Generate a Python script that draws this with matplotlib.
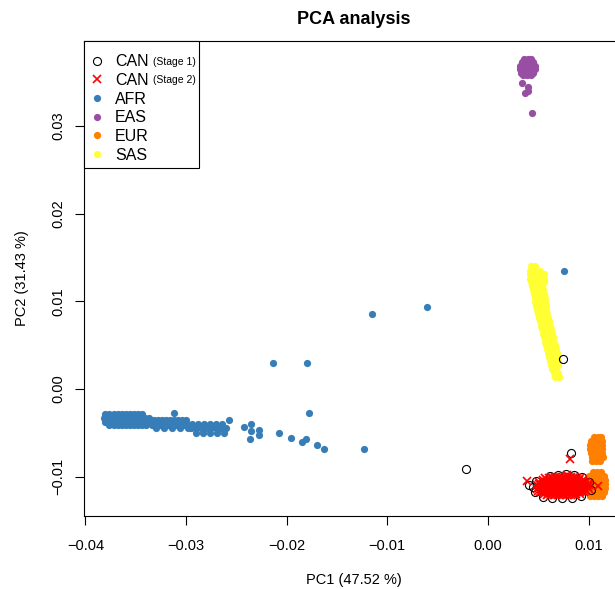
import numpy as np
import matplotlib
matplotlib.use("Agg")
from matplotlib import pyplot as plt
from matplotlib.transforms import IdentityTransform

plt.rcParams['font.family'] = ['Liberation Sans', 'DejaVu Sans']

###Values (PC1, PC2)###
# dense groups are kept as rows: (PC2, [PC1, ...])
afr_rows = [
    (-0.0029, [-0.0380, -0.0376, -0.0372, -0.0368, -0.0364, -0.0360, -0.0356, -0.0352, -0.0348, -0.0344]),
    (-0.0033, [-0.0381, -0.0377, -0.0373, -0.0369, -0.0365, -0.0361, -0.0357, -0.0353, -0.0349, -0.0345, -0.0341, -0.0337]),
    (-0.0038, [-0.0380, -0.0376, -0.0372, -0.0368, -0.0364, -0.0360, -0.0356, -0.0352, -0.0348, -0.0344, -0.0340, -0.0336]),
    (-0.0041, [-0.0376, -0.0372, -0.0368, -0.0364, -0.0360, -0.0356, -0.0352, -0.0348, -0.0344, -0.0340]),
    (-0.0036, [-0.0332, -0.0328, -0.0324, -0.0320, -0.0316, -0.0312, -0.0308, -0.0304, -0.0300]),
    (-0.0041, [-0.0334, -0.0330, -0.0326, -0.0322, -0.0318, -0.0314, -0.0310, -0.0306, -0.0302, -0.0298]),
    (-0.0045, [-0.0330, -0.0322, -0.0314, -0.0306, -0.0298]),
    (-0.0040, [-0.0294, -0.0288, -0.0282, -0.0276, -0.0270, -0.0264]),
    (-0.0045, [-0.0295, -0.0290, -0.0285, -0.0280, -0.0275, -0.0270, -0.0265, -0.0260]),
    (-0.0050, [-0.0290, -0.0283, -0.0276, -0.0269, -0.0262]),
]
afr_extra = [(-0.0312, -0.0027), (-0.0257, -0.0035), (-0.0242, -0.0043), (-0.0235, -0.0040),
             (-0.0235, -0.0048), (-0.0227, -0.0047), (-0.0227, -0.0052), (-0.0236, -0.0057),
             (-0.0208, -0.0050), (-0.0196, -0.0056), (-0.0185, -0.0061), (-0.0181, -0.0057),
             (-0.0170, -0.0064), (-0.0163, -0.0068), (-0.0123, -0.0069), (-0.0178, -0.0028),
             (-0.0214, 0.0030), (-0.0180, 0.0030), (-0.0115, 0.0085), (-0.0060, 0.0094),
             (0.0076, 0.0134)]

eas_rows = [
    (0.0377, [0.0036, 0.0040, 0.0043]),
    (0.0373, [0.0034, 0.0038, 0.0042, 0.0045]),
    (0.0369, [0.0032, 0.0036, 0.0040, 0.0044, 0.0047]),
    (0.0365, [0.0032, 0.0036, 0.0040, 0.0044, 0.0047]),
    (0.0361, [0.0033, 0.0037, 0.0041, 0.0045]),
    (0.0358, [0.0035, 0.0039, 0.0043]),
]
eas_extra = [(0.0034, 0.0349), (0.0040, 0.0345), (0.0037, 0.0338), (0.0040, 0.0340), (0.0044, 0.0315)]

eur_rows = [
    (-0.0055, [0.0105, 0.0109, 0.0112]),
    (-0.0059, [0.0102, 0.0106, 0.0110, 0.0113]),
    (-0.0064, [0.0101, 0.0105, 0.0109, 0.0113]),
    (-0.0068, [0.0101, 0.0105, 0.0109, 0.0113]),
    (-0.0073, [0.0102, 0.0106, 0.0110, 0.0113]),
    (-0.0078, [0.0103, 0.0107, 0.0111, 0.0114]),
    (-0.0082, [0.0103, 0.0107, 0.0111]),
    (-0.0095, [0.0104, 0.0108, 0.0112]),
    (-0.0099, [0.0100, 0.0104, 0.0108, 0.0112, 0.0115]),
    (-0.0104, [0.0098, 0.0102, 0.0106, 0.0110, 0.0114, 0.0116]),
    (-0.0108, [0.0098, 0.0102, 0.0106, 0.0110, 0.0114, 0.0116]),
    (-0.0113, [0.0098, 0.0102, 0.0106, 0.0110, 0.0114, 0.0116]),
    (-0.0118, [0.0099, 0.0103, 0.0107, 0.0111, 0.0115]),
    (-0.0122, [0.0101, 0.0105, 0.0109, 0.0113]),
]

sas_rows = [
    (0.0140, [0.0043, 0.0047]),
    (0.0135, [0.0042, 0.0047, 0.0052]),
    (0.0131, [0.0042, 0.0047, 0.0052, 0.0056]),
    (0.0126, [0.0042, 0.0047, 0.0052, 0.0056]),
    (0.0122, [0.0043, 0.0048, 0.0053, 0.0056]),
    (0.0117, [0.0044, 0.0049, 0.0054]),
    (0.0113, [0.0045, 0.0050, 0.0055]),
    (0.0108, [0.0046, 0.0051, 0.0056]),
    (0.0104, [0.0047, 0.0052, 0.0057]),
    (0.0099, [0.0047, 0.0052, 0.0057]),
    (0.0095, [0.0048, 0.0053, 0.0058]),
    (0.0090, [0.0049, 0.0054, 0.0058]),
    (0.0086, [0.0050, 0.0055, 0.0059]),
    (0.0081, [0.0051, 0.0056, 0.0060]),
    (0.0077, [0.0052, 0.0057, 0.0061]),
    (0.0072, [0.0053, 0.0058, 0.0062]),
    (0.0068, [0.0054, 0.0058, 0.0063]),
    (0.0063, [0.0055, 0.0059, 0.0064]),
    (0.0059, [0.0056, 0.0060, 0.0065]),
    (0.0054, [0.0057, 0.0061, 0.0066]),
    (0.0050, [0.0058, 0.0062, 0.0067]),
    (0.0045, [0.0059, 0.0063, 0.0068]),
    (0.0041, [0.0060, 0.0064, 0.0069]),
    (0.0036, [0.0061, 0.0065, 0.0069]),
    (0.0032, [0.0062, 0.0066, 0.0070]),
    (0.0027, [0.0063, 0.0067, 0.0070]),
    (0.0023, [0.0064, 0.0068]),
    (0.0018, [0.0066, 0.0070]),
    (0.0014, [0.0067, 0.0071]),
]

# CAN stage 1 (open circles), mostly hidden under stage 2
can1_pts = [(0.0062, -0.0099), (0.0070, -0.0098), (0.0078, -0.0097), (0.0086, -0.0098),
            (0.0094, -0.0100), (0.0048, -0.0105), (0.0045, -0.0112), (0.0047, -0.0118),
            (0.0055, -0.0123), (0.0064, -0.0125), (0.0074, -0.0125), (0.0084, -0.0124),
            (0.0093, -0.0122), (0.0100, -0.0106), (0.0102, -0.0115), (0.0041, -0.0110),
            (0.0070, -0.0110), (0.0080, -0.0112), (0.0083, -0.0073), (-0.0022, -0.0091),
            (0.0075, 0.0034)]

# CAN stage 2 (crosses)
can2_rows = [
    (-0.0100, [0.0063, 0.0067, 0.0071, 0.0075, 0.0079, 0.0083, 0.0087]),
    (-0.0102, [0.0057, 0.0061, 0.0065, 0.0069, 0.0073, 0.0077, 0.0081, 0.0085, 0.0089, 0.0092]),
    (-0.0104, [0.0055, 0.0059, 0.0063, 0.0067, 0.0071, 0.0075, 0.0079, 0.0083, 0.0087, 0.0091, 0.0095]),
    (-0.0106, [0.0051, 0.0055, 0.0059, 0.0063, 0.0067, 0.0071, 0.0075, 0.0079, 0.0083, 0.0087, 0.0091, 0.0095, 0.0098]),
    (-0.0108, [0.0051, 0.0055, 0.0059, 0.0063, 0.0067, 0.0071, 0.0075, 0.0079, 0.0083, 0.0087, 0.0091, 0.0095, 0.0099]),
    (-0.0110, [0.0049, 0.0053, 0.0057, 0.0061, 0.0065, 0.0069, 0.0073, 0.0077, 0.0081, 0.0085, 0.0089, 0.0093, 0.0097, 0.0100]),
    (-0.0112, [0.0051, 0.0055, 0.0059, 0.0063, 0.0067, 0.0071, 0.0075, 0.0079, 0.0083, 0.0087, 0.0091, 0.0095, 0.0099]),
    (-0.0114, [0.0049, 0.0053, 0.0057, 0.0061, 0.0065, 0.0069, 0.0073, 0.0077, 0.0081, 0.0085, 0.0089, 0.0093, 0.0097, 0.0100]),
    (-0.0116, [0.0050, 0.0054, 0.0058, 0.0062, 0.0066, 0.0070, 0.0074, 0.0078, 0.0082, 0.0086, 0.0090, 0.0094, 0.0098]),
    (-0.0118, [0.0052, 0.0056, 0.0060, 0.0064, 0.0068, 0.0072, 0.0076, 0.0080, 0.0084, 0.0088, 0.0092, 0.0096]),
    (-0.0120, [0.0056, 0.0060, 0.0064, 0.0068, 0.0072, 0.0076, 0.0080, 0.0084, 0.0088, 0.0092]),
    (-0.0121, [0.0059, 0.0063, 0.0067, 0.0071, 0.0075, 0.0079, 0.0083, 0.0087]),
]
can2_extra = [(0.0039, -0.0105), (0.0082, -0.0080), (0.0079, -0.0098), (0.0109, -0.0111)]

group_labels = ["CAN", "CAN", "AFR", "EAS", "EUR", "SAS"]
stage_notes = ["(Stage 1)", "(Stage 2)"]
group_colors = ["black", "red", "#377EB8", "#984EA3", "#FF7F00", "#FFFF33"]


def rows_to_xy(rows, extra=()):
    xs = [x for y, row in rows for x in row] + [p[0] for p in extra]
    ys = [y for y, row in rows for _ in row] + [p[1] for p in extra]
    return np.array(xs), np.array(ys)


fig = plt.figure(figsize=(6.15, 5.89), dpi=100)
# plot region runs past the right edge, as in the cropped original
ax = fig.add_axes([0.1371, 0.1239, 0.8771, 0.8065])

dot = dict(linestyle='none', marker='o', markersize=5.2, markeredgewidth=0)
handles = {}
for name, rows, extra, col in [("AFR", afr_rows, afr_extra, group_colors[2]),
                               ("EAS", eas_rows, eas_extra, group_colors[3]),
                               ("EUR", eur_rows, (), group_colors[4]),
                               ("SAS", sas_rows, (), group_colors[5])]:
    x, y = rows_to_xy(rows, extra)
    handles[name], = ax.plot(x, y, color=col, **dot)

x1 = np.array([p[0] for p in can1_pts])
y1 = np.array([p[1] for p in can1_pts])
handles["CAN1"], = ax.plot(x1, y1, linestyle='none', marker='o', markersize=5.8,
                           markerfacecolor='none', markeredgecolor='black', markeredgewidth=0.8)
x2, y2 = rows_to_xy(can2_rows, can2_extra)
handles["CAN2"], = ax.plot(x2, y2, linestyle='none', marker='x', markersize=5.5,
                           color='red', markeredgewidth=1.2)

ax.set_xlim(-0.0401, 0.0135)
ax.set_ylim(-0.0145, 0.0397)
ax.set_xticks([-0.04, -0.03, -0.02, -0.01, 0.00, 0.01])
ax.set_yticks([-0.01, 0.00, 0.01, 0.02, 0.03])
ax.tick_params(direction='out', length=6.7, width=0.8, labelsize=10.5, color='black')
ax.tick_params(axis='x', pad=10)
ax.tick_params(axis='y', pad=7, labelrotation=90)
for lab in ax.get_yticklabels():
    lab.set_verticalalignment('center')
for sp in ax.spines.values():
    sp.set_linewidth(0.8)
    sp.set_color('black')

ax.set_title("PCA analysis", fontsize=13, fontweight='bold', pad=12)
ax.set_xlabel("PC1 (47.52 %)", fontsize=10.5, labelpad=14)
ax.set_ylabel("PC2 (31.43 %)", fontsize=10.5, labelpad=16)

# blank tiny title only adds a little room above the first row
leg = ax.legend([handles["CAN1"], handles["CAN2"], handles["AFR"], handles["EAS"],
                 handles["EUR"], handles["SAS"]], group_labels,
                loc='upper left', bbox_to_anchor=(0, 0, 0.2127, 1), mode='expand',
                borderaxespad=0, fancybox=False, framealpha=1, edgecolor='black',
                fontsize=11.5, handlelength=0.94, handletextpad=0.62,
                borderpad=0.35, labelspacing=0.23, title=' ', title_fontsize=2)
leg.get_frame().set_linewidth(0.8)

fig.canvas.draw()
for t, note in zip(leg.get_texts()[:2], stage_notes):
    bb = t.get_window_extent()
    fig.text(bb.x1 + 5, (bb.y0 + bb.y1) / 2, note, fontsize=7.5, va='center',
             transform=IdentityTransform())

fig.savefig("out.png", dpi=100)
